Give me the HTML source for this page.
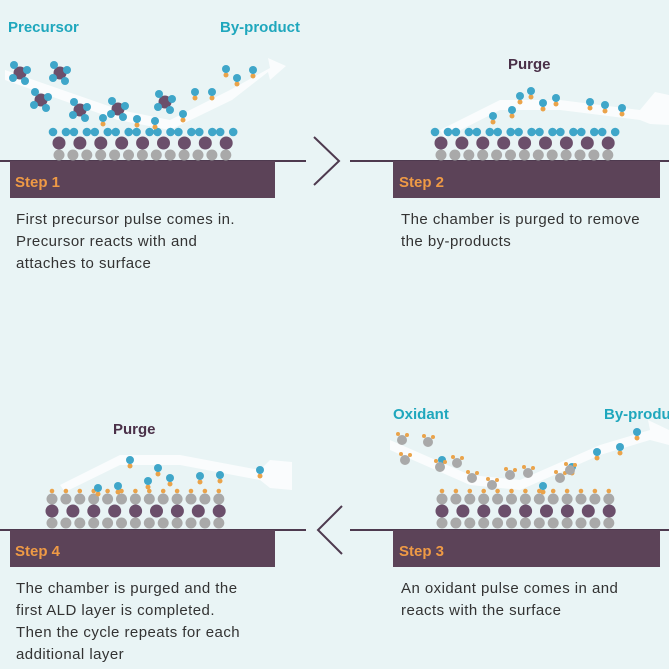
<!DOCTYPE html>
<html><head><meta charset="utf-8"><style>
html,body{margin:0;padding:0;background:#e9f4f5;width:669px;height:669px;overflow:hidden}
svg{display:block}
</style></head><body>
<svg id="s" width="669" height="669" viewBox="0 0 669 669" xmlns="http://www.w3.org/2000/svg" font-family="Liberation Sans, sans-serif">
<rect width="669" height="669" fill="#e9f4f5"/>
<g stroke="#4e3a4f" stroke-width="2">
<line x1="0" y1="161" x2="306" y2="161"/><line x1="350" y1="161" x2="669" y2="161"/>
<line x1="0" y1="530" x2="306" y2="530"/><line x1="350" y1="530" x2="669" y2="530"/>
</g>
<g fill="#5c4358">
<rect x="10" y="161" width="265" height="37"/><rect x="393" y="161" width="267" height="37"/>
<rect x="10" y="530" width="265" height="37"/><rect x="393" y="530" width="267" height="37"/>
</g>
<g fill="none" stroke="#4e3a4f" stroke-width="2">
<polyline points="314,137 339,161 314,185"/>
<polyline points="342,506 318,530 342,554"/>
</g>
<g fill="#ffffff" opacity="0.75">
<path d="M5,70 L120,110 L170,120 L230,90 L270,68 L268,58 L286,66 L270,80 L268,72 L232,100 L170,130 L118,120 L5,80Z"/>
<path d="M440,130 L500,100 L560,100 L640,110 L655,92 L669,95 L669,125 L650,124 L640,120 L560,110 L500,110 L445,138Z"/>
<path d="M60,485 L120,455 L180,455 L260,470 L270,460 L292,462 L292,490 L270,488 L260,480 L180,465 L120,465 L65,492Z"/>
<path d="M390,440 L470,475 L520,480 L600,445 L650,430 L648,420 L669,430 L669,445 L650,440 L600,455 L520,490 L470,485 L390,450Z"/>
</g>
<g id="m"></g>
<g font-weight="bold" font-size="15">
<text x="8" y="32" fill="#1fa7bd">Precursor</text>
<text x="220" y="32" fill="#1fa7bd">By-product</text>
<text x="508" y="69" fill="#4a3048">Purge</text>
<text x="113" y="434" fill="#4a3048">Purge</text>
<text x="393" y="419" fill="#1fa7bd">Oxidant</text>
<text x="604" y="419" fill="#1fa7bd">By-product</text>
<g fill="#ef9a45" font-size="15">
<text x="15" y="187">Step 1</text><text x="399" y="187">Step 2</text>
<text x="15" y="556">Step 4</text><text x="399" y="556">Step 3</text>
</g>
</g>
<g font-size="15" fill="#333" letter-spacing="0.45">
<text x="16" y="224">First precursor pulse comes in.</text>
<text x="16" y="246">Precursor reacts with and</text>
<text x="16" y="268">attaches to surface</text>
<text x="401" y="224">The chamber is purged to remove</text>
<text x="401" y="246">the by-products</text>
<text x="16" y="593">The chamber is purged and the</text>
<text x="16" y="615">first ALD layer is completed.</text>
<text x="16" y="637">Then the cycle repeats for each</text>
<text x="16" y="659">additional layer</text>
<text x="401" y="593">An oxidant pulse comes in and</text>
<text x="401" y="615">reacts with the surface</text>
</g>
</svg>
<script>
var g=document.getElementById('m'),h='';
function c(x,y,r,f){h+='<circle cx="'+x+'" cy="'+y+'" r="'+r+'" fill="'+f+'"/>';}
var G='#a9a9a9',P='#6b4f6b',B='#3fa6c9',O='#eaa34a';
function layer(x0,yb,top){
 for(var i=0;i<13;i++)c(x0+i*13.9,yb,5.5,G);
 for(var i=0;i<9;i++)c(x0+i*20.9,yb-12,6.5,P);
 if(top=='blue'){for(var i=0;i<9;i++){c(x0+i*20.9-6,yb-23,4.3,B);c(x0+i*20.9+7,yb-23,4.3,B);}}
 else{for(var i=0;i<13;i++){c(x0+i*13.9,yb-24,5.5,G);c(x0+i*13.9,yb-32,2.3,O);}}
}
layer(59,155,'blue');layer(441,155,'blue');layer(52,523,'ox');layer(442,523,'ox');
function pm(x,y){c(x,y,6.5,P);c(x-6,y-8,4,B);c(x+7,y-3,4,B);c(x-7,y+5,4,B);c(x+5,y+8,4,B);}
[[20,73],[60,73],[41,100],[80,110],[118,109],[165,102]].forEach(function(p){pm(p[0],p[1]);});
function bp(x,y){c(x,y+6,2.5,O);c(x,y,4,B);}
[[103,118],[137,119],[155,121],[183,114],[195,92],[212,92],[226,69],[237,78],[253,70],
 [493,116],[512,110],[520,96],[531,91],[543,103],[556,98],[590,102],[605,105],[622,108],
 [98,488],[118,486],[130,460],[148,481],[158,468],[170,478],[200,476],[220,475],[260,470],
 [442,460],[543,486],[572,467],[597,452],[620,447],[637,432]].forEach(function(p){bp(p[0],p[1]);});
function ox(x,y){c(x,y,5,G);c(x-4,y-6,2,O);c(x+5,y-5,2,O);}
[[402,440],[428,442],[405,460],[440,467],[457,463],[472,478],[492,485],[510,475],[528,473],[560,478],[570,470]].forEach(function(p){ox(p[0],p[1]);});
g.innerHTML=h;
</script>
</body></html>
